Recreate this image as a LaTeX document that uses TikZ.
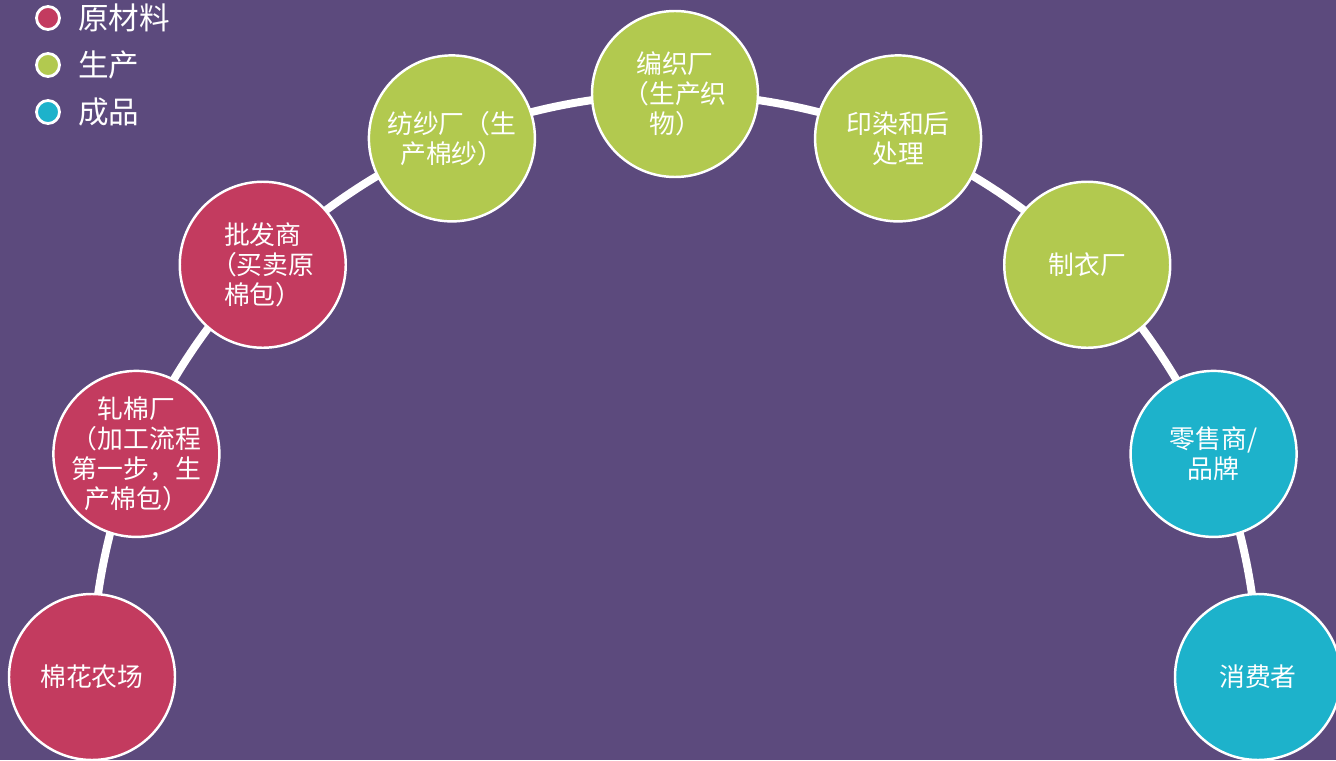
\documentclass[tikz,border=0pt]{standalone}
\usepackage{fontspec}
\newfontfamily\cjk{Noto Sans CJK SC}
\usetikzlibrary{backgrounds}
\definecolor{bgpurple}{HTML}{5C4A7D}
\definecolor{rawred}{HTML}{C33B5F}
\definecolor{prodgreen}{HTML}{B2C94F}
\definecolor{goodcyan}{HTML}{1DB2CB}
\begin{document}
\begin{tikzpicture}[
  stage/.style={circle,draw=white,line width=1.4pt,minimum size=3.32cm,inner sep=-4pt,
    text=white,align=center,font=\cjk\fontsize{14.7}{17}\selectfont},
  key/.style={circle,draw=white,line width=1.6pt,minimum size=0.46cm,inner sep=0pt},
  keytext/.style={right,text=white,inner sep=0pt,font=\cjk\fontsize{17.4}{20}\selectfont},
  link/.style={white,line width=4.5pt,bend left=11.25,looseness=0.85}]
  \useasboundingbox (0,0) rectangle (26.72,15.2);
  % legend
  \node[key,fill=rawred] (k1) at (0.96,14.84) {};
  \node[key,fill=prodgreen] (k2) at (0.96,13.90) {};
  \node[key,fill=goodcyan] (k3) at (0.96,12.96) {};
  \node[keytext] at (1.56,14.84) {原材料};
  \node[keytext] at (1.56,13.90) {生产};
  \node[keytext] at (1.56,12.96) {成品};

  % stages on the arc, centre (13.5,1.66)
  \node[stage,fill=rawred] (farm) at ([shift={(180:11.66)}]13.5,1.66) {棉花农场};
  \node[stage,fill=rawred] (gin) at ([shift={(157.5:11.66)}]13.5,1.66) {轧棉厂\\（加工流程\\第一步，生\\产棉包）};
  \node[stage,fill=rawred] (trader) at ([shift={(135:11.66)}]13.5,1.66) {批发商\\（买卖原\\棉包）};
  \node[stage,fill=prodgreen] (spin) at ([shift={(112.5:11.66)}]13.5,1.66) {纺纱厂（生\\产棉纱）};
  \node[stage,fill=prodgreen] (weave) at ([shift={(90:11.66)}]13.5,1.66) {编织厂\\（生产织\\物）};
  \node[stage,fill=prodgreen] (dye) at ([shift={(67.5:11.66)}]13.5,1.66) {印染和后\\处理};
  \node[stage,fill=prodgreen] (sew) at ([shift={(45:11.66)}]13.5,1.66) {制衣厂};
  \node[stage,fill=goodcyan] (retail) at ([shift={(22.5:11.66)}]13.5,1.66) {零售商/\\品牌};
  \node[stage,fill=goodcyan] (user) at ([shift={(0:11.66)}]13.5,1.66) {消费者};

  \begin{scope}[on background layer]
    \fill[bgpurple] (0,0) rectangle (26.72,15.2);
    \draw[link] (farm.center) to (gin.center);
    \draw[link] (gin.center) to (trader.center);
    \draw[link] (trader.center) to (spin.center);
    \draw[link] (spin.center) to (weave.center);
    \draw[link] (weave.center) to (dye.center);
    \draw[link] (dye.center) to (sew.center);
    \draw[link] (sew.center) to (retail.center);
    \draw[link] (retail.center) to (user.center);
  \end{scope}
\end{tikzpicture}
\end{document}
